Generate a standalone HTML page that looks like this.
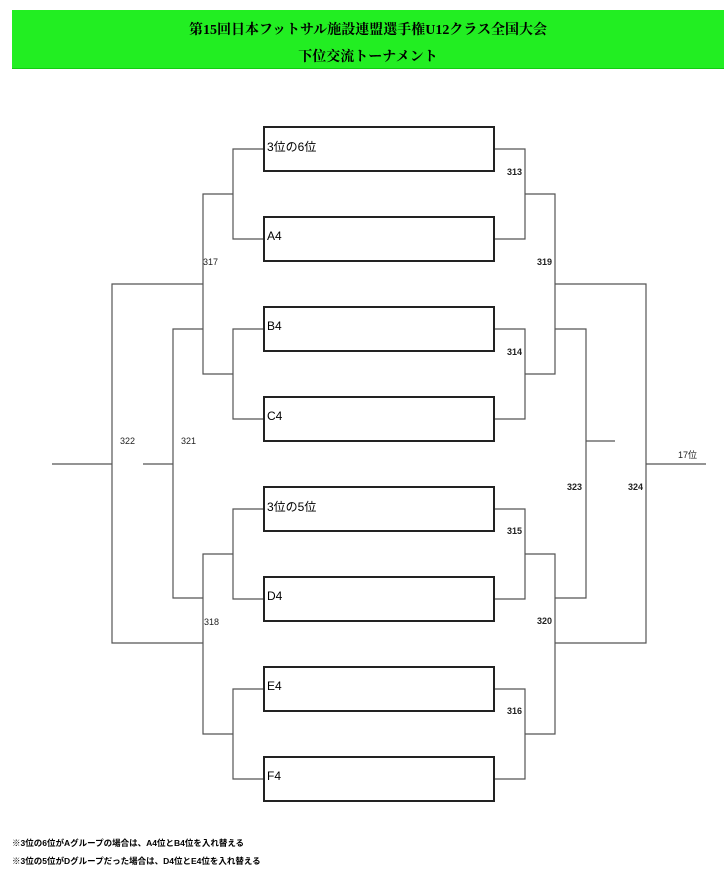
<!DOCTYPE html>
<html><head><meta charset="utf-8"><style>
body{margin:0;width:724px;height:879px;background:#fff;position:relative;overflow:hidden;font-family:"Liberation Sans","Noto Sans CJK JP",sans-serif}
.bar{position:absolute;left:12px;top:10px;width:712px;height:58px;background:#22ee22;border-bottom:1px solid #1c1}
.t{position:absolute;left:0;width:100%;text-align:center;font-family:"Liberation Serif","Noto Serif CJK SC",serif;font-weight:bold;font-size:14px;color:#000}
.box{position:absolute;left:263px;width:226px;height:42px;border:2px solid #222;font-size:12px;padding-left:2px;display:flex;align-items:center;box-sizing:content-box}
.box span{position:relative;top:-3px}
.l{position:absolute;font-size:9px;color:#222}
.b{font-weight:bold}
.n{position:absolute;left:12px;font-size:8.5px;font-weight:bold}
</style></head><body>
<div class="bar"><div class="t" style="top:9px">第15回日本フットサル施設連盟選手権U12クラス全国大会</div><div class="t" style="top:36px">下位交流トーナメント</div></div>
<div class="box" style="top:126px"><span>3位の6位</span></div>
<div class="box" style="top:216px"><span>A4</span></div>
<div class="box" style="top:306px"><span>B4</span></div>
<div class="box" style="top:396px"><span>C4</span></div>
<div class="box" style="top:486px"><span>3位の5位</span></div>
<div class="box" style="top:576px"><span>D4</span></div>
<div class="box" style="top:666px"><span>E4</span></div>
<div class="box" style="top:756px"><span>F4</span></div>
<svg width="724" height="879" style="position:absolute;left:0;top:0" fill="none" stroke="#555" stroke-width="1.2">
<path d="M263 149H233V239H263M263 329H233V419H263M263 509H233V599H263M263 689H233V779H263"/>
<path d="M233 194H203V374H233M233 554H203V734H233"/>
<path d="M203 329H173V598H203M143 464H173"/>
<path d="M203 284H112V643H203M52 464H112"/>
<path d="M495 149H525V239H495M495 329H525V419H495M495 509H525V599H495M495 689H525V779H495"/>
<path d="M525 194H555V374H525M525 554H555V734H525"/>
<path d="M555 329H586V598H555M586 441H615"/>
<path d="M555 284H646V643H555M646 464H706"/>
</svg>
<div class="l" style="left:203px;top:257px">317</div>
<div class="l" style="left:120px;top:436px">322</div>
<div class="l" style="left:181px;top:436px">321</div>
<div class="l" style="left:204px;top:617px">318</div>
<div class="l b" style="left:507px;top:167px">313</div>
<div class="l b" style="left:537px;top:257px">319</div>
<div class="l b" style="left:507px;top:347px">314</div>
<div class="l b" style="left:507px;top:526px">315</div>
<div class="l b" style="left:537px;top:616px">320</div>
<div class="l b" style="left:507px;top:706px">316</div>
<div class="l b" style="left:567px;top:482px">323</div>
<div class="l b" style="left:628px;top:482px">324</div>
<div class="l" style="left:678px;top:448px">17位</div>
<div class="n" style="top:837px">※3位の6位がAグループの場合は、A4位とB4位を入れ替える</div>
<div class="n" style="top:855px">※3位の5位がDグループだった場合は、D4位とE4位を入れ替える</div>
</body></html>
